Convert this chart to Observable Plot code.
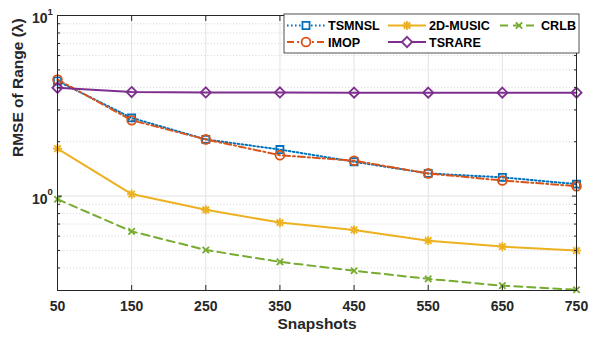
<!DOCTYPE html>
<html>
<head>
<meta charset="utf-8">
<script src="https://cdn.jsdelivr.net/npm/d3@7"></script>
<script src="https://cdn.jsdelivr.net/npm/@observablehq/plot@0.6"></script>
<style>
  html, body { margin: 0; padding: 0; background: #fff; }
  #chart { width: 591px; height: 337px; }
</style>
</head>
<body>
<div id="chart"></div>
<script>
// Range RMSE versus number of snapshots, log-scaled y axis
const snapshots = [50, 150, 250, 350, 450, 550, 650, 750];
const tsmnsl = [4.34, 2.71, 2.06, 1.81, 1.55, 1.335, 1.27, 1.165];
const imop   = [4.42, 2.63, 2.06, 1.685, 1.57, 1.335, 1.22, 1.135];
const music  = [1.83, 1.026, 0.84, 0.713, 0.649, 0.566, 0.525, 0.499];
const tsrare = [3.98, 3.77, 3.75, 3.75, 3.74, 3.74, 3.74, 3.74];
const crlb   = [0.96, 0.638, 0.503, 0.432, 0.386, 0.348, 0.319, 0.303];

const majorY = [1, 10];
const minorY = [0.3, 0.4, 0.5, 0.6, 0.7, 0.8, 0.9, 2, 3, 4, 5, 6, 7, 8, 9];

// eight-armed asterisk marker (plus overlaid with a cross)
const star8 = {
  draw(context, size) {
    const r = Math.sqrt(size / Math.PI);
    const k = r * Math.SQRT1_2;
    context.moveTo(-r, 0); context.lineTo(r, 0);
    context.moveTo(0, -r); context.lineTo(0, r);
    context.moveTo(-k, -k); context.lineTo(k, k);
    context.moveTo(-k, k); context.lineTo(k, -k);
  }
};

const seriesDefs = [
  {name: "TSMNSL",   values: tsmnsl, color: "#0072BD", dash: "1.6,2.4", symbol: d3.symbolSquare,   r: 4,   row: 0, col: 0},
  {name: "IMOP",     values: imop,   color: "#D95319", dash: "7,3,2,3", symbol: d3.symbolCircle,   r: 4.4, row: 1, col: 0},
  {name: "2D-MUSIC", values: music,  color: "#EDB120", dash: null,      symbol: star8,             r: 4.6, row: 0, col: 1},
  {name: "TSRARE",   values: tsrare, color: "#7E2F8E", dash: null,      symbol: d3.symbolDiamond2, r: 4.6, row: 1, col: 1},
  {name: "CRLB",     values: crlb,   color: "#77AC30", dash: "8,5",     symbol: d3.symbolTimes,    r: 3,   row: 0, col: 2}
];

const rows = seriesDefs.flatMap(s => snapshots.map((x, i) => ({series: s.name, x, y: s.values[i]})));

const font = "'Liberation Sans', Arial, Helvetica, sans-serif";
const ink = "#262626";

const marks = [
  // grid
  Plot.ruleY(minorY, {y: d => d, stroke: "#c8c8c8", strokeDasharray: "1,2.2", strokeWidth: 0.8}),
  Plot.ruleX(snapshots, {x: d => d, stroke: "#e2e2e2", strokeWidth: 1}),
  Plot.ruleY(majorY, {y: d => d, stroke: "#e2e2e2", strokeWidth: 1}),
];

for (const s of seriesDefs) {
  const data = rows.filter(d => d.series === s.name);
  marks.push(Plot.line(data, {x: "x", y: "y", stroke: s.color, strokeWidth: 2, strokeDasharray: s.dash ?? undefined}));
}
for (const s of seriesDefs) {
  const data = rows.filter(d => d.series === s.name);
  marks.push(Plot.dot(data, {x: "x", y: "y", symbol: s.symbol, r: s.r, stroke: s.color, strokeWidth: 1.8, fill: "none"}));
}

marks.push(
  Plot.frame({stroke: ink, strokeWidth: 1}),
  // inward ticks, all four sides
  Plot.axisX({anchor: "bottom", ticks: snapshots, tickSize: -5, tickFormat: () => "", label: null, stroke: ink}),
  Plot.axisX({anchor: "top", ticks: snapshots, tickSize: -5, tickFormat: () => "", label: null, stroke: ink}),
  Plot.axisY({anchor: "left", ticks: majorY, tickSize: -5, tickFormat: () => "", label: null, stroke: ink}),
  Plot.axisY({anchor: "right", ticks: majorY, tickSize: -5, tickFormat: () => "", label: null, stroke: ink}),
  Plot.axisY({anchor: "left", ticks: minorY, tickSize: -3, tickFormat: () => "", label: null, stroke: ink}),
  Plot.axisY({anchor: "right", ticks: minorY, tickSize: -3, tickFormat: () => "", label: null, stroke: ink}),
  // x tick labels
  Plot.axisX({anchor: "bottom", ticks: snapshots, tickSize: 0, tickPadding: 11, tickFormat: d => String(d), label: null, fontSize: 14, fontWeight: "bold", fill: ink}),
  // y tick labels as 10 with superscript exponent
  Plot.text(majorY, {y: d => d, frameAnchor: "left", text: () => "10", textAnchor: "end", dx: -10, dy: 3, fontSize: 14, fontWeight: "bold", fill: ink}),
  Plot.text(majorY, {y: d => d, frameAnchor: "left", text: d => String(Math.round(Math.log10(d))), textAnchor: "start", dx: -10, dy: -4, fontSize: 9.5, fontWeight: "bold", fill: ink}),
  // axis titles
  Plot.text(["Snapshots"], {frameAnchor: "bottom", dy: 38, text: d => d, fontSize: 15.5, fontWeight: "bold", fill: ink}),
  Plot.text(["RMSE of Range (\u03bb)"], {frameAnchor: "left", dx: -39, dy: 4, rotate: -90, text: d => d, fontSize: 15.5, fontWeight: "bold", fill: ink})
);

const svg = Plot.plot({
  width: 591,
  height: 337,
  marginLeft: 57,
  marginRight: 15,
  marginTop: 15,
  marginBottom: 47,
  x: {domain: [50, 750], axis: null},
  y: {type: "log", domain: [0.3, 10], axis: null},
  style: {fontFamily: font, background: "#fff", overflow: "visible"},
  marks
});

// legend box inside the plot, upper right
const legend = d3.select(svg).append("g").attr("font-family", font).attr("text-anchor", "start");
const box = {x: 284, y: 14, w: 295, h: 39};
legend.append("rect")
  .attr("x", box.x).attr("y", box.y).attr("width", box.w).attr("height", box.h)
  .attr("fill", "#fff").attr("stroke", ink).attr("stroke-width", 0.8);
const colX = [287, 388, 500];
const rowY = [25.5, 42];
for (const s of seriesDefs) {
  const x0 = colX[s.col], y0 = rowY[s.row];
  const g = legend.append("g");
  g.append("line")
    .attr("x1", x0).attr("x2", x0 + 38).attr("y1", y0).attr("y2", y0)
    .attr("stroke", s.color).attr("stroke-width", 2)
    .attr("stroke-dasharray", s.dash);
  g.append("path")
    .attr("transform", `translate(${x0 + 19},${y0})`)
    .attr("d", d3.symbol(s.symbol, s.r * s.r * Math.PI)())
    .attr("fill", "#fff")
    .attr("stroke", s.color).attr("stroke-width", 1.8);
  g.append("text")
    .attr("x", x0 + 41).attr("y", y0).attr("dy", "0.36em")
    .attr("text-anchor", "start")
    .attr("font-size", 12.6).attr("font-weight", "bold").attr("fill", "#000")
    .text(s.name);
}

document.getElementById("chart").appendChild(svg);
</script>
</body>
</html>
